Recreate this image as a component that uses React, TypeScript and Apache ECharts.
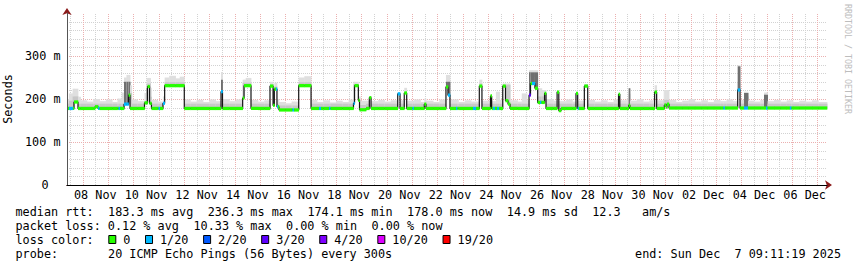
import React, { useEffect, useRef } from 'react';
import * as echarts from 'echarts';

// time unit: hours since 2025-11-07 00:00 (UTC), graph ends Sun Dec 7 09:11:19 2025
const START = 9 + 11 / 60 + 19 / 3600;
const END = START + 720;
const BASE_DATE = Date.UTC(2025, 10, 7);
const MONTHS = ['Jan', 'Feb', 'Mar', 'Apr', 'May', 'Jun', 'Jul', 'Aug', 'Sep', 'Oct', 'Nov', 'Dec'];

// x tick labels (noon of every second day) and y tick labels
const xLabelHours = [36, 84, 132, 180, 228, 276, 324, 372, 420, 468, 516, 564, 612, 660, 708];
const yTickValues = [0, 100, 200, 300];

// median rtt (ms), step list [hour, value]
const medianSteps: [number, number][] = [
  [START, 178], [15.8, 193], [19.6, 178], [35.7, 182], [38.6, 178], [63.2, 188], [67.5, 209], [68.9, 178],
  [82.6, 191], [85.5, 229], [87.4, 190], [89.2, 178], [100.1, 190], [101.7, 231], [120.3, 178],
  [155.1, 217], [156.5, 178], [175.6, 202], [176.9, 231], [183.5, 178], [201.5, 230], [204.4, 185],
  [205.6, 223], [208.1, 182], [210, 174.5], [228.7, 231], [240.4, 178], [280.6, 190], [281.6, 231],
  [285.2, 197], [286.3, 175], [292.5, 178], [295.6, 203], [297.2, 178], [322.5, 212], [324.7, 178],
  [328.7, 214], [331, 178], [347.7, 188], [349.3, 178], [368.2, 228], [370.1, 209], [372, 178],
  [399.8, 230], [402.3, 178], [410.4, 207], [411.5, 178], [422, 230], [424.6, 196], [427, 188],
  [428.9, 178], [446.9, 209], [448.3, 236], [452.5, 225], [455.1, 192], [461.6, 213], [463, 178],
  [473.5, 216], [475.1, 173], [477.2, 178], [491.4, 213], [493, 178], [499.3, 230], [502.5, 178],
  [531.7, 211], [532.9, 178], [541.3, 185], [542.5, 178], [565.9, 216], [567.8, 178], [575.1, 186],
  [576.7, 181], [577.6, 188], [579.5, 179], [644.6, 221], [646.8, 179],
];

// lost pings out of 20, step list [hour, count]
const lossSteps: [number, number][] = [
  [START, 0], [11.1, 1], [14.9, 0], [38.6, 1], [40, 0], [58, 1], [59.4, 0], [63.2, 1], [67.5, 0],
  [95.9, 1], [97.3, 0], [100.1, 1], [101.7, 0], [155.1, 1], [156.5, 0], [207.2, 1], [209, 0],
  [222.8, 1], [224.3, 0], [247.9, 1], [249.8, 0], [257.4, 1], [258.8, 0], [280.6, 1], [281.6, 0],
  [322.5, 1], [324.7, 0], [336.5, 1], [337.9, 0], [370.1, 1], [372, 0], [377.7, 1], [379.1, 0],
  [393.8, 1], [396.7, 0], [412.8, 1], [414.7, 0], [416.6, 1], [418.5, 0], [446.9, 3], [448.3, 0],
  [449.7, 1], [452.5, 0], [457.3, 1], [458.7, 0], [493, 1], [494, 0], [631, 1], [632.5, 0],
  [644.6, 1], [646.8, 0], [650.6, 1], [654.4, 0], [671.4, 1], [672.9, 0], [694, 1], [695.5, 0],
];

// smoke: highest pings (ms)
const smokeTopSteps: [number, number][] = [
  [START, 200], [11, 213], [14.5, 224], [19.6, 205], [22, 197], [28, 194], [34, 200], [40, 195], [46, 199],
  [52, 193], [57, 201], [61, 215], [63.2, 250], [65.5, 256], [68.9, 232], [70.5, 199], [76, 195],
  [82.6, 214], [84.6, 249], [88.3, 226], [89.2, 198], [95, 194], [100.1, 206], [101.7, 250], [106, 254],
  [112, 248], [116, 252], [120.3, 199], [126, 194], [132, 198], [138, 193], [144, 199], [150, 195],
  [155.1, 263], [156.5, 200], [163, 195], [169, 199], [175.6, 245], [178.5, 249], [183.5, 198], [190, 194],
  [196, 197], [201.5, 240], [204.4, 214], [205.6, 238], [208.1, 200], [210, 193], [216, 190], [222, 194],
  [228.7, 250], [234, 253], [240.4, 198], [246, 193], [252, 197], [258, 192], [264, 196], [270, 193],
  [276, 199], [280.6, 240], [285.2, 206], [287, 196], [295.6, 207], [297.2, 195], [304, 198], [310, 194],
  [316, 197], [322.5, 214], [324.7, 197], [328.7, 226], [331, 196], [338, 199], [344, 193], [347.7, 201],
  [349.3, 196], [356, 193], [362, 199], [368.2, 256], [372, 199], [380, 193], [386, 197], [392, 194],
  [399.8, 245], [402.3, 196], [410.4, 210], [411.5, 195], [415.5, 217], [419, 198], [422, 236], [428.9, 197],
  [436, 194], [440, 213], [445, 197], [446.9, 267], [455.1, 225], [459, 221], [463, 200], [470, 196],
  [473.5, 216], [475.1, 195], [482, 199], [488, 194], [491.4, 212], [493, 196], [499.3, 233], [502.5, 198],
  [509, 194], [515, 197], [521, 193], [527, 199], [531.7, 212], [532.9, 197], [539, 199], [541.3, 225],
  [542.5, 196], [549, 200], [555, 194], [561, 197], [565.9, 232], [567.8, 197], [574.5, 221], [579.5, 198],
  [586, 193], [592, 196], [598, 200], [604, 194], [610, 197], [616, 193], [622, 198], [628, 195],
  [634, 199], [640, 195], [644.6, 279], [646.8, 198], [650.6, 217], [654.4, 196], [660, 194], [666, 198],
  [669.5, 215], [672.9, 195], [679, 198], [685, 194], [691, 197], [697, 193], [703, 196], [709, 194],
  [715, 197], [721, 193],
];

// smoke: middle pings (ms)
const smokeMidSteps: [number, number][] = [
  [START, 189], [11, 196], [14.5, 206], [19.6, 189], [63.2, 232], [65.5, 240], [68.9, 214], [70.5, 189],
  [84.6, 236], [88.3, 205], [89.2, 189], [101.7, 239], [120.3, 189], [155.1, 240], [156.5, 189],
  [175.6, 238], [183.5, 189], [201.5, 234], [204.4, 196], [205.6, 229], [208.1, 189], [210, 185],
  [228.7, 239], [240.4, 189], [280.6, 235], [285.2, 198], [287, 186], [292.5, 189], [322.5, 205],
  [324.7, 189], [328.7, 212], [331, 189], [368.2, 240], [372, 189], [399.8, 236], [402.3, 189],
  [422, 233], [428.9, 189], [446.9, 252], [455.1, 206], [463, 189], [473.5, 205], [475.1, 189],
  [499.3, 234], [502.5, 189], [541.3, 212], [542.5, 189], [565.9, 220], [567.8, 189], [574.5, 198],
  [579.5, 189], [644.6, 240], [646.8, 189], [650.6, 206], [654.4, 189], [669.5, 205], [672.9, 189],
];

// smoke: dense dark core on spikes (ms, 0 = none)
const smokeDarkSteps: [number, number][] = [
  [START, 0], [63.2, 240], [68.9, 0], [84.6, 225], [87.4, 0], [155.1, 245], [156.5, 0], [322.5, 208],
  [324.7, 0], [368.2, 240], [372, 0], [446.9, 262], [455.1, 0], [541.3, 225], [542.5, 0], [644.6, 276],
  [646.8, 0], [650.6, 214], [654.4, 0], [669.5, 210], [672.9, 0],
];

const lossLevels = [0, 1, 2, 3, 4, 10, 19];
const lossLabels = ['0', '1/20', '2/20', '3/20', '4/20', '10/20', '19/20'];
const lossColors = ['#26ff00', '#00b8ff', '#0059ff', '#5e00ff', '#7e00ff', '#dd00ff', '#ff0000'];

const legendLines = [
  'median rtt:  183.3 ms avg  236.3 ms max  174.1 ms min  178.0 ms now  14.9 ms sd  12.3   am/s',
  'packet loss: 0.12 % avg  10.33 % max  0.00 % min  0.00 % now',
  'loss color:',
  'probe:       20 ICMP Echo Pings (56 Bytes) every 300s',
];
const endText = 'end: Sun Dec  7 09:11:19 2025';

const FONT = 'DejaVu Sans Mono';
const FS = 11.8;
const CW = 7.12;
const RED = '#ebb0b0';
const GRAY = '#d2d2d2';

function valueAt(steps: [number, number][], h: number) {
  let v = steps[0][1];
  for (const [s, val] of steps) {
    if (s <= h + 1e-9) v = val;
    else break;
  }
  return v;
}

function lossColor(n: number) {
  let c = lossColors[0];
  lossLevels.forEach((l, i) => {
    if (n >= l) c = lossColors[i];
  });
  return c;
}

function buildSegments() {
  const set = new Set<number>();
  [medianSteps, lossSteps, smokeTopSteps, smokeMidSteps, smokeDarkSteps].forEach((st) =>
    st.forEach(([h]) => set.add(h))
  );
  set.add(END);
  const br = Array.from(set).filter((h) => h >= START && h <= END).sort((a, b) => a - b);
  const segs: number[][] = [];
  for (let i = 0; i < br.length - 1; i++) {
    const s = br[i];
    segs.push([
      s,
      br[i + 1],
      valueAt(medianSteps, s),
      valueAt(lossSteps, s),
      valueAt(smokeTopSteps, s),
      valueAt(smokeMidSteps, s),
      valueAt(smokeDarkSteps, s),
    ]);
  }
  return segs;
}

function tokens(line: string, x0: number, y: number) {
  const out: any[] = [];
  const re = /\S+(?: \S+)*/g;
  let m: RegExpExecArray | null;
  while ((m = re.exec(line))) {
    out.push({
      type: 'text',
      x: x0 + m.index * CW,
      y,
      style: { text: m[0], fontFamily: FONT, fontSize: FS, fill: '#000', verticalAlign: 'middle', align: 'left' },
    });
  }
  return out;
}

export default function App() {
  const ref = useRef<HTMLDivElement>(null);
  useEffect(() => {
    const chart = echarts.init(ref.current!, null, { renderer: 'svg' });
    const segs = buildSegments();

    const vGrid: number[][] = [];
    for (let h = 12; h < END; h += 12) if (h > START) vGrid.push([h, 0, h % 24 === 0 ? 1 : 0]);
    const hGrid: number[][] = [];
    for (let v = 20; v < 400; v += 20) hGrid.push([START, v, v % 100 === 0 ? 1 : 0]);

    const medianLine = medianSteps.map(([h, v]) => [h, v]);
    medianLine.push([END, medianSteps[medianSteps.length - 1][1]]);

    const graphics: any[] = [];
    legendLines.forEach((l, i) => graphics.push(...tokens(l, 15.5, 211.5 + i * 14)));
    graphics.push({
      type: 'text',
      x: 841,
      y: 253.5,
      style: { text: endText, fontFamily: FONT, fontSize: FS, fill: '#000', verticalAlign: 'middle', align: 'right' },
    });
    let lx = 123.3;
    lossLabels.forEach((lab, i) => {
      graphics.push({
        type: 'rect',
        shape: { x: lx - 14.5, y: 235.5, width: 7, height: 8 },
        style: { fill: lossColors[i], stroke: '#000', lineWidth: 1 },
      });
      graphics.push({
        type: 'text',
        x: lx,
        y: 239.5,
        style: { text: lab, fontFamily: FONT, fontSize: FS, fill: '#000', verticalAlign: 'middle', align: 'left' },
      });
      lx += lab.length * CW + 29.6;
    });
    graphics.push({
      type: 'text',
      x: 848,
      y: 4,
      rotation: -Math.PI / 2,
      style: {
        text: 'RRDTOOL / TOBI OETIKER',
        fontFamily: FONT,
        fontSize: 8.3,
        fill: '#bdbdbd',
        verticalAlign: 'middle',
        align: 'left',
      },
    });

    const axisLabelFont = { fontFamily: FONT, fontSize: FS, color: '#000' };

    chart.setOption({
      animation: false,
      backgroundColor: '#fff',
      textStyle: { fontFamily: FONT },
      grid: { left: 67, right: 30, top: 13, bottom: 82, containLabel: false, outerBoundsMode: 'none' },
      xAxis: [
        {
          type: 'value',
          min: START,
          max: END,
          position: 'bottom',
          z: 6,
          axisLine: { show: true, lineStyle: { color: '#000', width: 1 } },
          axisTick: { show: false },
          splitLine: { show: false },
          axisLabel: {
            ...axisLabelFont,
            margin: 4,
            customValues: xLabelHours,
            formatter: (h: number) => {
              const d = new Date(BASE_DATE + h * 3600000);
              return String(d.getUTCDate()).padStart(2, '0') + ' ' + MONTHS[d.getUTCMonth()];
            },
          },
        },
        {
          type: 'value',
          min: START,
          max: END,
          position: 'bottom',
          z: 5,
          axisLine: {
            show: true,
            symbol: ['none', 'arrow'],
            symbolSize: [7, 7],
            symbolOffset: [0, 5],
            lineStyle: { color: '#8b1a1a', width: 1 },
          },
          axisTick: { show: false },
          splitLine: { show: false },
          axisLabel: { show: false },
        },
      ],
      yAxis: [
        {
          type: 'value',
          min: 0,
          max: 400,
          interval: 100,
          position: 'left',
          z: 6,
          axisLine: { show: true, lineStyle: { color: '#555', width: 1 } },
          axisTick: { show: false },
          splitLine: { show: false },
          axisLabel: {
            ...axisLabelFont,
            margin: 6.5,
            customValues: yTickValues,
            formatter: (v: number) => (v === 0 ? '{z|0}' : `${v} m`),
            rich: { z: { ...axisLabelFont, padding: [0, 12, 0, 0] } },
          },
          name: 'Seconds',
          nameLocation: 'middle',
          nameRotate: 90,
          nameGap: 44,
          nameTextStyle: { ...axisLabelFont },
        },
        {
          type: 'value',
          min: 0,
          max: 400,
          interval: 100,
          position: 'left',
          z: 5,
          axisLine: {
            show: true,
            symbol: ['none', 'arrow'],
            symbolSize: [7, 7],
            symbolOffset: [0, 5],
            lineStyle: { color: '#8b1a1a', width: 1 },
          },
          axisTick: { show: false },
          splitLine: { show: false },
          axisLabel: { show: false },
        },
      ],
      graphic: graphics,
      series: [
        {
          type: 'custom',
          z: 0,
          silent: true,
          data: hGrid,
          renderItem: (_p: any, api: any) => {
            const p0 = api.coord([START, api.value(1)]);
            const p1 = api.coord([END, api.value(1)]);
            const y = Math.round(p0[1]) + 0.5;
            return {
              type: 'line',
              shape: { x1: p0[0], y1: y, x2: p1[0], y2: y },
              style: { stroke: api.value(2) ? RED : GRAY, lineWidth: 1, lineDash: [1, 1] },
            };
          },
        },
        {
          type: 'custom',
          z: 0,
          silent: true,
          data: vGrid,
          renderItem: (_p: any, api: any) => {
            const p0 = api.coord([api.value(0), 0]);
            const p1 = api.coord([api.value(0), 400]);
            const x = Math.round(p0[0]) + 0.5;
            return {
              type: 'line',
              shape: { x1: x, y1: p0[1], x2: x, y2: p1[1] },
              style: { stroke: api.value(2) ? RED : GRAY, lineWidth: 1, lineDash: [1, 1] },
            };
          },
        },
        {
          type: 'custom',
          z: 1,
          silent: true,
          data: segs,
          renderItem: (_p: any, api: any) => {
            const s = api.value(0);
            const e = api.value(1);
            const m = api.value(2);
            const top = api.value(4);
            const mid = api.value(5);
            const dark = api.value(6);
            const x0 = api.coord([s, 0])[0];
            const x1 = api.coord([e, 0])[0];
            const yM = api.coord([s, m - 2])[1];
            const children: any[] = [];
            const band = (v: number, fill: string) => {
              if (v <= m) return;
              const y = api.coord([s, v])[1];
              children.push({
                type: 'rect',
                shape: { x: x0, y, width: x1 - x0 + 0.4, height: yM - y },
                style: { fill },
              });
            };
            band(top, '#dfdfdf');
            band(mid, '#c8c8c8');
            band(dark, '#6f6f6f');
            return { type: 'group', children };
          },
        },
        {
          type: 'line',
          z: 2,
          step: 'end',
          symbol: 'none',
          silent: true,
          data: medianLine,
          lineStyle: { color: '#151515', width: 1.2 },
        },
        {
          type: 'custom',
          z: 3,
          silent: true,
          data: segs,
          renderItem: (_p: any, api: any) => {
            const s = api.value(0);
            const e = api.value(1);
            const m = api.value(2);
            const p0 = api.coord([s, m + 3.8]);
            const p1 = api.coord([e, m - 3.8]);
            return {
              type: 'rect',
              shape: { x: p0[0], y: p0[1], width: p1[0] - p0[0] + 0.3, height: p1[1] - p0[1] },
              style: { fill: lossColor(api.value(3)) },
            };
          },
        },
      ],
    });
    return () => chart.dispose();
  }, []);
  return (
    <div style={{ position: 'fixed', left: 0, top: 0, width: 857, height: 267, background: '#fff' }}>
      <div ref={ref} style={{ width: 857, height: 267 }} />
    </div>
  );
}
